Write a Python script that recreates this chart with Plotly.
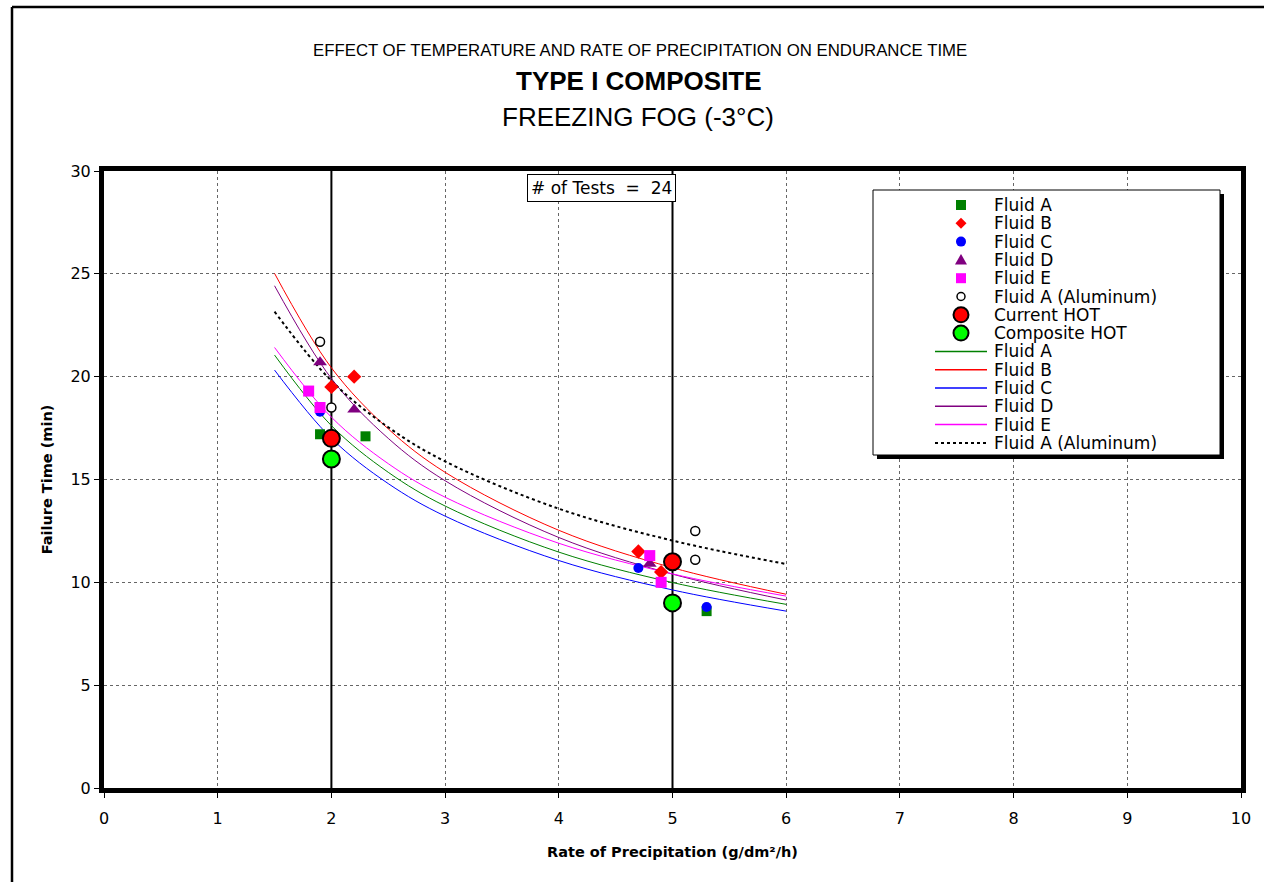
import plotly.graph_objects as go

# Measured failure times (min) by fluid and precipitation rate (g/dm²/h)
fluid_a_x = [1.9, 2.3, 5.3]
fluid_a_y = [17.2, 17.1, 8.6]
fluid_b_x = [2.0, 2.2, 4.7, 4.9]
fluid_b_y = [19.5, 20.0, 11.5, 10.5]
fluid_c_x = [1.9, 4.7, 5.3]
fluid_c_y = [18.3, 10.7, 8.8]
fluid_d_x = [1.9, 2.2, 4.8]
fluid_d_y = [20.7, 18.4, 10.9]
fluid_e_x = [1.8, 1.9, 4.8, 4.9]
fluid_e_y = [19.3, 18.5, 11.3, 10.0]
fluid_al_x = [1.9, 2.0, 5.2, 5.2]
fluid_al_y = [21.7, 18.5, 12.5, 11.1]

# Holdover times at the two reference rates
hot_x = [2, 5]
current_hot = [17, 11]
composite_hot = [16, 9]

# Trend curves sampled along the rate axis
trend_x = [1.5, 2, 2.5, 3, 4, 5, 6]
trend_a = [21.05, 17.62, 15.35, 13.71, 11.47, 9.99, 8.93]
trend_b = [25.02, 20.43, 17.46, 15.35, 12.53, 10.71, 9.42]
trend_c = [20.32, 17.00, 14.80, 13.22, 11.06, 9.63, 8.60]
trend_d = [24.42, 19.91, 17.00, 14.94, 12.18, 10.40, 9.14]
trend_e = [21.42, 18.03, 15.77, 14.14, 11.90, 10.41, 9.33]
trend_al = [23.16, 19.80, 17.54, 15.88, 13.58, 12.03, 10.89]

n_tests = 24
x_range = [0, 10]
y_range = [0, 30]

SANS = "Liberation Sans, Arial, sans-serif"
WIDE = "DejaVu Sans, Verdana, sans-serif"
GREEN, RED, BLUE, PURPLE, MAGENTA, LIME = "#008000", "#FF0000", "#0000FF", "#800080", "#FF00FF", "#00FF00"

fig = go.Figure()

# reference rate lines (drawn first so every other mark sits over them)
for xv in hot_x:
    fig.add_trace(go.Scatter(x=[xv, xv], y=y_range, mode="lines", showlegend=False,
                             hoverinfo="skip", line=dict(color="black", width=2)))

line_series = [
    ("Fluid A", trend_a, GREEN, "solid"),
    ("Fluid B", trend_b, RED, "solid"),
    ("Fluid C", trend_c, BLUE, "solid"),
    ("Fluid D", trend_d, PURPLE, "solid"),
    ("Fluid E", trend_e, MAGENTA, "solid"),
    ("Fluid A (Aluminum)", trend_al, "black", "dot"),
]
for name, ys, col, dash in line_series:
    fig.add_trace(go.Scatter(
        x=trend_x, y=ys, mode="lines", name=name, showlegend=False,
        line=dict(color=col, width=2 if dash == "dot" else 1, dash=dash, shape="spline", smoothing=1.0),
    ))

point_series = [
    ("Fluid A", fluid_a_x, fluid_a_y, dict(symbol="square", size=10, color=GREEN)),
    ("Fluid B", fluid_b_x, fluid_b_y, dict(symbol="diamond", size=11, color=RED)),
    ("Fluid C", fluid_c_x, fluid_c_y, dict(symbol="circle", size=10, color=BLUE)),
    ("Fluid D", fluid_d_x, fluid_d_y, dict(symbol="triangle-up", size=12, color=PURPLE)),
    ("Fluid E", fluid_e_x, fluid_e_y, dict(symbol="square", size=11, color=MAGENTA)),
    ("Fluid A (Aluminum)", fluid_al_x, fluid_al_y,
     dict(symbol="circle", size=9, color="white", line=dict(color="black", width=1.5))),
    ("Current HOT", hot_x, current_hot,
     dict(symbol="circle", size=17, color=RED, line=dict(color="black", width=2))),
    ("Composite HOT", hot_x, composite_hot,
     dict(symbol="circle", size=17, color=LIME, line=dict(color="black", width=2))),
]
for name, xs, ys, mk in point_series:
    fig.add_trace(go.Scatter(x=xs, y=ys, mode="markers", name=name, marker=mk, showlegend=False))

# plot-area geometry (px) used to place page furniture
L, R, T, B = 104, 1241, 171, 788
W, H = R - L, B - T


def px_x(p):
    return (p - L) / W


def px_y(p):
    return (B - p) / H


shapes = [
    # legend box with drop shadow
    dict(type="rect", xref="paper", yref="paper",
         x0=px_x(877), x1=px_x(1224), y0=px_y(459), y1=px_y(194),
         fillcolor="black", line=dict(width=0), layer="above"),
    dict(type="rect", xref="paper", yref="paper",
         x0=px_x(873), x1=px_x(1220), y0=px_y(455), y1=px_y(190),
         fillcolor="white", line=dict(color="black", width=1), layer="above"),
    # page frame along top and left edges
    dict(type="line", xref="paper", yref="paper",
         x0=px_x(12), x1=px_x(1270), y0=px_y(7), y1=px_y(7),
         line=dict(color="black", width=2.5), layer="above"),
    dict(type="line", xref="paper", yref="paper",
         x0=px_x(12), x1=px_x(12), y0=px_y(7), y1=px_y(890),
         line=dict(color="black", width=2.5), layer="above"),
]

annotations = [
    dict(text="EFFECT OF TEMPERATURE AND RATE OF PRECIPITATION ON ENDURANCE TIME",
         x=px_x(640), y=px_y(50), xref="paper", yref="paper", showarrow=False,
         xanchor="center", yanchor="middle", font=dict(size=16.8, family=SANS, color="black")),
    dict(text="<b>TYPE I COMPOSITE</b>",
         x=px_x(639), y=px_y(81), xref="paper", yref="paper", showarrow=False,
         xanchor="center", yanchor="middle", font=dict(size=26, family=SANS, color="black")),
    dict(text="FREEZING FOG (-3°C)",
         x=px_x(638), y=px_y(117), xref="paper", yref="paper", showarrow=False,
         xanchor="center", yanchor="middle", font=dict(size=26, family=SANS, color="black")),
    dict(text=f"# of Tests  =  {n_tests}",
         x=px_x(601), y=px_y(188), xref="paper", yref="paper", showarrow=False,
         xanchor="center", yanchor="middle", font=dict(size=17, family=WIDE, color="black"),
         bgcolor="white", bordercolor="black", borderwidth=1, borderpad=3),
]

# legend drawn as a keyed list inside the shadowed box
ROW0, ROW_STEP = 205, 18.3
KEY_X, LINE_X0, LINE_X1, TEXT_X = 961, 935, 987, 992


def key_marker(symbol, cx, cy, size, color, outline=None, lw=1):
    r = size / 2
    base = dict(xref="paper", yref="paper", fillcolor=color, layer="above",
                line=dict(color=outline or color, width=lw if outline else 0))
    if symbol == "square":
        return dict(type="rect", x0=px_x(cx - r), x1=px_x(cx + r),
                    y0=px_y(cy + r), y1=px_y(cy - r), **base)
    if symbol == "circle":
        return dict(type="circle", x0=px_x(cx - r), x1=px_x(cx + r),
                    y0=px_y(cy + r), y1=px_y(cy - r), **base)
    if symbol == "diamond":
        pts = [(cx, cy - r), (cx + r, cy), (cx, cy + r), (cx - r, cy)]
    else:  # triangle-up
        pts = [(cx, cy - r), (cx + r, cy + r * 0.75), (cx - r, cy + r * 0.75)]
    path = "M" + " L".join(f"{px_x(a):.5f},{px_y(b):.5f}" for a, b in pts) + " Z"
    return dict(type="path", path=path, **base)


legend_keys = [
    ("Fluid A", ("square", 10, GREEN, None, 0)),
    ("Fluid B", ("diamond", 11, RED, None, 0)),
    ("Fluid C", ("circle", 10, BLUE, None, 0)),
    ("Fluid D", ("triangle", 12, PURPLE, None, 0)),
    ("Fluid E", ("square", 10, MAGENTA, None, 0)),
    ("Fluid A (Aluminum)", ("circle", 8, "white", "black", 1.5)),
    ("Current HOT", ("circle", 15, RED, "black", 2)),
    ("Composite HOT", ("circle", 15, LIME, "black", 2)),
]
row = 0
for name, (sym, size, col, outline, lw) in legend_keys:
    cy = ROW0 + row * ROW_STEP
    shapes.append(key_marker(sym, KEY_X, cy, size, col, outline, lw))
    annotations.append(dict(text=name, x=px_x(TEXT_X), y=px_y(cy), xref="paper", yref="paper",
                            showarrow=False, xanchor="left", yanchor="middle",
                            font=dict(size=17, family=WIDE, color="black")))
    row += 1
for name, _, col, dash in line_series:
    cy = ROW0 + row * ROW_STEP
    shapes.append(dict(type="line", xref="paper", yref="paper",
                       x0=px_x(LINE_X0), x1=px_x(LINE_X1), y0=px_y(cy), y1=px_y(cy),
                       line=dict(color=col, width=2 if dash == "dot" else 1.5, dash=dash),
                       layer="above"))
    annotations.append(dict(text=name, x=px_x(TEXT_X), y=px_y(cy), xref="paper", yref="paper",
                            showarrow=False, xanchor="left", yanchor="middle",
                            font=dict(size=17, family=WIDE, color="black")))
    row += 1

axis_common = dict(
    showgrid=True, gridcolor="#666666", gridwidth=1, griddash="dot",
    zeroline=False, showline=True, linecolor="black", linewidth=5, mirror=True,
    ticks="outside", ticklen=5, tickcolor="black", tickwidth=1,
    tickfont=dict(size=16, family=WIDE, color="black"),
)

fig.update_layout(
    width=1264, height=882,
    margin=dict(l=L, r=1264 - R, t=T, b=882 - B, autoexpand=False),
    paper_bgcolor="white", plot_bgcolor="white",
    font=dict(family=WIDE, color="black"),
    xaxis=dict(range=x_range, dtick=1, ticklabelstandoff=7,
               title=dict(text="<b>Rate of Precipitation (g/dm²/h)</b>",
                          font=dict(size=14.5, family=WIDE), standoff=21),
               **axis_common),
    yaxis=dict(range=y_range, dtick=5,
               title=dict(text="<b>Failure Time (min)</b>",
                          font=dict(size=14.5, family=WIDE), standoff=16),
               **axis_common),
    shapes=shapes,
    annotations=annotations,
    showlegend=False,
)

fig.write_html("out.html")
